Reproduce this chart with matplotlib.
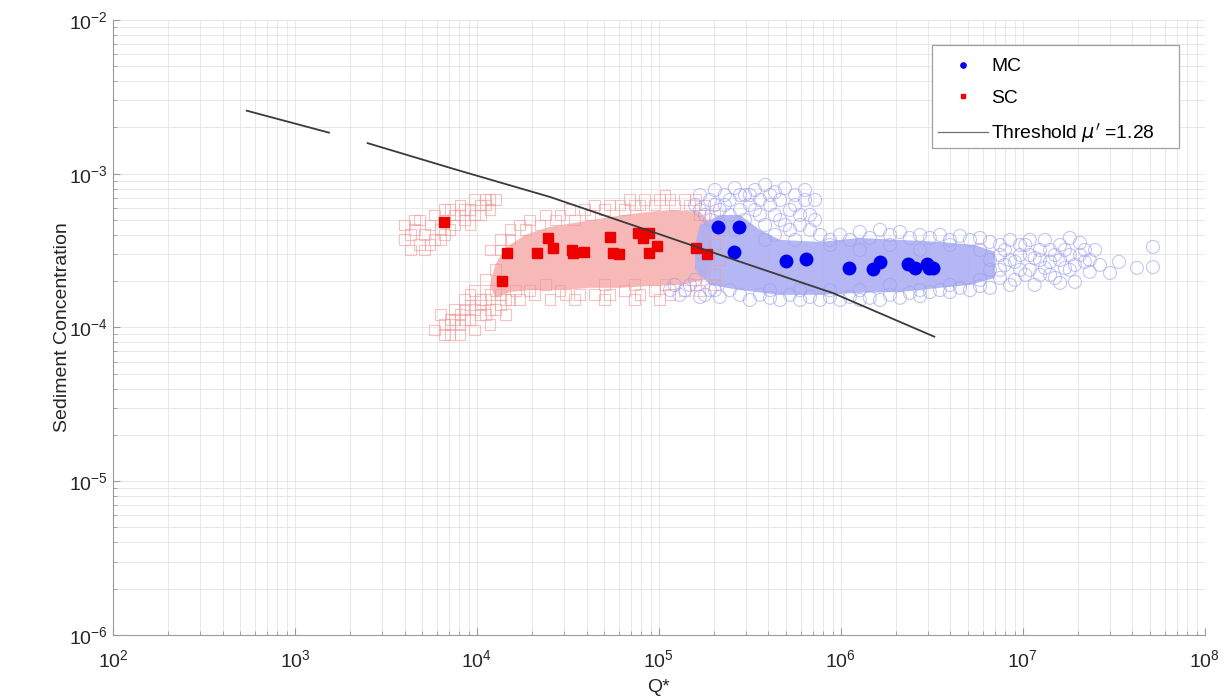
import numpy as np
import matplotlib
matplotlib.use("Agg")
from matplotlib import pyplot as plt
from matplotlib.lines import Line2D
from matplotlib.patches import Rectangle
from matplotlib.legend_handler import HandlerLine2D

plt.rcParams['font.family'] = ['Liberation Sans', 'DejaVu Sans']

# ---- data ----
# filled markers (SC = red squares, MC = blue dots)
sc_q = [6590, 14600, 13700, 21400, 24500, 26200, 33300, 33700, 38700, 53800,
        55900, 60300, 76700, 81700, 88100, 88100, 97500, 1.60e5, 1.84e5]
sc_c = [4.85e-4, 3.05e-4, 2.00e-4, 3.05e-4, 3.82e-4, 3.29e-4, 3.19e-4, 3.05e-4, 3.10e-4, 3.88e-4,
        3.05e-4, 3.01e-4, 4.12e-4, 3.82e-4, 4.12e-4, 3.05e-4, 3.39e-4, 3.29e-4, 3.01e-4]

mc_q = [2.11e5, 2.75e5, 2.58e5, 4.99e5, 6.42e5, 1.11e6, 1.50e6, 1.64e6,
        2.33e6, 2.55e6, 2.97e6, 3.20e6, 3.03e6]
mc_c = [4.51e-4, 4.51e-4, 3.10e-4, 2.71e-4, 2.79e-4, 2.44e-4, 2.40e-4, 2.67e-4,
        2.59e-4, 2.44e-4, 2.59e-4, 2.44e-4, 2.44e-4]

# threshold curve (gap in the original drawing)
thr_q = [543, 1537, np.nan, 2510, 7740, 25200, 2.78e5, 9.08e5, 3.26e6]
thr_c = [2.57e-3, 1.85e-3, np.nan, 1.58e-3, 1.06e-3, 7.06e-4, 2.68e-4, 1.67e-4, 8.71e-5]

x_ticks = [1e2, 1e3, 1e4, 1e5, 1e6, 1e7, 1e8]
y_ticks = [1e-6, 1e-5, 1e-4, 1e-3, 1e-2]

# SC open squares - small left cluster
sc_left_q = [4020, 4020, 4290, 4560, 4860, 4860, 5180, 5520, 5520, 5870, 6270, 6670, 7110,
             7110, 7570, 8070, 8590, 9160, 9750, 9750, 1.04e4, 1.11e4, 1.18e4, 1.18e4, 9160, 6270,
             4290, 4560, 5180, 5870, 6670, 7570, 8070, 8590, 1.04e4, 1.11e4, 1.26e4, 6670]
sc_left_c = [4.64e-4, 3.71e-4, 3.19e-4, 4.31e-4, 3.44e-4, 5.00e-4, 4.00e-4, 4.64e-4, 3.44e-4,
             5.39e-4, 4.31e-4, 5.00e-4, 5.81e-4, 4.31e-4, 5.39e-4, 6.26e-4, 5.00e-4, 5.81e-4,
             6.75e-4, 5.39e-4, 6.26e-4, 6.75e-4, 5.81e-4, 6.75e-4, 4.64e-4, 3.71e-4,
             4.00e-4, 5.00e-4, 3.19e-4, 3.71e-4, 5.81e-4, 4.64e-4, 5.39e-4, 5.81e-4, 5.39e-4,
             6.26e-4, 6.75e-4, 4.00e-4]

# SC open squares - main cloud
sc_open_q = [5870, 6270, 6670, 7110, 7570, 8070, 8590, 9160, 9750, 1.04e4, 1.11e4, 1.18e4,
             1.26e4, 1.34e4, 1.43e4, 1.52e4, 9750, 1.11e4, 1.26e4, 1.04e4, 8590, 7570,
             1.18e4, 1.34e4, 1.52e4, 1.72e4, 1.95e4, 2.37e4, 2.86e4, 3.24e4, 3.92e4, 4.45e4,
             5.38e4, 6.11e4, 7.38e4, 8.38e4, 1.01e5, 1.15e5, 1.39e5, 1.58e5, 1.79e5,
             1.72e4, 2.08e4, 2.52e4, 3.05e4, 3.68e4, 4.45e4, 5.38e4, 6.50e4, 7.87e4, 9.51e4,
             1.15e5, 1.39e5, 1.68e5, 2.03e5,
             2.03e5, 2.16e5, 2.03e5, 2.16e5, 2.03e5,
             6670, 7110, 8070, 8590, 9160, 9750, 1.04e4, 1.11e4, 1.18e4, 1.18e4, 1.26e4, 1.34e4,
             1.43e4, 9160, 8070, 7110,
             1.34e4, 1.52e4, 1.84e4, 2.22e4, 2.69e4, 3.45e4, 4.18e4, 5.05e4, 6.50e4, 7.87e4,
             9.51e4, 1.22e5, 1.48e5, 1.68e5, 1.08e5, 6.93e4,
             1.62e4, 1.95e4, 2.37e4, 3.45e4, 5.05e4, 7.38e4, 1.01e5, 5.05e4, 7.38e4, 1.08e5,
             1.58e5, 2.86e4]
sc_open_c = [9.63e-5, 1.21e-4, 8.94e-5, 1.04e-4, 1.30e-4, 8.94e-5, 1.12e-4, 1.40e-4, 9.63e-5,
             1.21e-4, 1.51e-4, 1.04e-4, 1.30e-4, 1.63e-4, 1.21e-4, 1.51e-4, 1.75e-4, 2.04e-4,
             2.37e-4, 1.51e-4, 1.51e-4, 1.12e-4,
             3.19e-4, 3.71e-4, 4.31e-4, 4.64e-4, 5.00e-4, 5.39e-4, 5.39e-4, 5.81e-4, 5.81e-4,
             6.26e-4, 6.26e-4, 6.26e-4, 6.26e-4, 6.75e-4, 6.75e-4, 6.75e-4, 6.75e-4, 6.75e-4,
             6.26e-4,
             1.51e-4, 1.63e-4, 1.51e-4, 1.63e-4, 1.63e-4, 1.63e-4, 1.63e-4, 1.75e-4, 1.63e-4,
             1.75e-4, 1.63e-4, 1.75e-4, 1.75e-4, 1.89e-4,
             5.39e-4, 4.31e-4, 3.44e-4, 2.75e-4, 2.20e-4,
             1.04e-4, 1.12e-4, 1.21e-4, 1.30e-4, 1.12e-4, 1.30e-4, 1.40e-4, 1.21e-4, 1.63e-4,
             1.30e-4, 1.75e-4, 1.40e-4, 1.51e-4, 1.63e-4, 1.04e-4, 8.94e-5,
             3.19e-4, 3.71e-4, 4.31e-4, 4.64e-4, 5.00e-4, 5.00e-4, 5.39e-4, 5.81e-4, 5.81e-4,
             6.26e-4, 6.26e-4, 6.26e-4, 6.26e-4, 5.39e-4, 7.27e-4, 6.75e-4,
             1.75e-4, 1.75e-4, 1.89e-4, 1.51e-4, 1.51e-4, 1.51e-4, 1.51e-4, 1.89e-4, 1.89e-4,
             1.89e-4, 1.89e-4, 1.75e-4]

# SC dense core outline
sc_core_q = [1.18e4, 1.26e4, 1.43e4, 1.84e4, 2.52e4, 3.68e4, 5.38e4, 7.87e4, 1.15e5, 1.68e5,
             1.95e5, 1.95e5, 1.79e5, 1.30e5, 8.93e4, 6.11e4, 4.18e4, 2.86e4, 1.95e4, 1.52e4, 1.26e4]
sc_core_c = [1.89e-4, 2.55e-4, 3.29e-4, 4.00e-4, 4.51e-4, 4.85e-4, 5.23e-4, 5.56e-4, 5.81e-4,
             5.64e-4, 4.64e-4, 2.67e-4, 2.04e-4, 1.89e-4, 1.86e-4, 1.81e-4, 1.81e-4, 1.75e-4,
             1.75e-4, 1.70e-4, 1.56e-4]

# MC open circles
mc_open_q = [1.58e5, 1.68e5, 1.91e5, 2.03e5, 2.30e5, 2.61e5, 2.97e5, 3.37e5, 3.83e5, 4.34e5,
             4.93e5, 5.60e5, 6.35e5, 7.21e5, 6.76e5, 5.96e5, 5.25e5, 4.63e5, 4.08e5, 3.59e5,
             3.16e5, 2.79e5, 2.45e5, 2.16e5, 1.79e5, 5.25e5, 4.34e5, 6.76e5, 7.68e5,
             8.71e5, 9.89e5, 1.12e6, 1.27e6, 1.44e6, 1.64e6, 1.86e6, 2.11e6, 2.39e6, 2.72e6,
             3.08e6, 3.50e6, 3.97e6, 4.51e6, 5.12e6, 5.81e6, 6.59e6,
             1.15e5, 1.30e5, 1.48e5, 1.68e5, 1.91e5, 2.16e5, 2.45e5, 2.79e5, 3.16e5, 3.59e5,
             4.08e5, 4.63e5, 5.25e5, 5.96e5, 6.76e5, 7.68e5, 8.71e5, 9.89e5, 1.12e6, 1.27e6,
             1.44e6, 1.64e6, 1.86e6, 2.11e6, 2.39e6, 2.72e6, 3.08e6, 3.50e6, 3.97e6, 4.51e6,
             5.12e6, 5.81e6, 6.59e6,
             7.48e6, 7.96e6, 8.49e6, 9.04e6, 9.64e6, 1.03e7, 1.09e7, 1.16e7, 1.24e7, 1.32e7,
             1.41e7, 1.50e7, 1.60e7, 1.70e7, 1.81e7, 1.93e7, 2.06e7, 2.19e7, 2.33e7, 2.49e7,
             2.65e7, 7.48e6, 8.49e6, 9.64e6, 1.24e7, 1.60e7, 1.09e7, 1.41e7, 1.81e7,
             7.96e6, 9.04e6, 1.03e7, 1.16e7, 1.32e7, 1.50e7, 1.70e7, 1.93e7, 2.19e7,
             3.01e7, 3.37e7, 4.23e7, 5.18e7, 5.18e7,
             1.68e5, 1.91e5, 2.03e5, 2.30e5, 2.45e5, 2.79e5, 2.97e5, 3.16e5, 3.37e5, 3.59e5,
             3.83e5, 4.08e5, 4.34e5, 4.63e5, 4.93e5, 5.60e5, 5.96e5, 6.35e5, 7.21e5, 3.83e5,
             5.60e5, 2.61e5, 2.16e5,
             1.22e5, 1.39e5, 1.58e5, 1.79e5, 2.03e5,
             8.71e5, 1.27e6, 1.86e6, 2.72e6, 3.97e6, 5.81e6,
             4.08e5, 5.96e5, 8.71e5, 1.27e6, 1.86e6, 2.72e6, 3.97e6, 5.81e6,
             6.59e6, 6.59e6, 7.48e6, 7.48e6,
             8.49e6, 9.64e6, 1.09e7, 1.24e7, 1.41e7, 1.60e7, 1.81e7, 2.06e7, 2.33e7]
mc_open_c = [6.26e-4, 7.27e-4, 6.75e-4, 7.84e-4, 7.27e-4, 8.07e-4, 7.27e-4, 7.84e-4, 8.46e-4,
             7.60e-4, 8.07e-4, 7.27e-4, 7.84e-4, 6.75e-4, 5.39e-4, 4.64e-4, 5.81e-4, 5.00e-4,
             6.26e-4, 5.39e-4, 6.26e-4, 5.81e-4, 5.39e-4, 5.81e-4, 5.39e-4, 4.31e-4, 4.00e-4,
             4.31e-4, 4.00e-4,
             3.71e-4, 4.00e-4, 3.71e-4, 4.18e-4, 3.82e-4, 4.31e-4, 4.00e-4, 4.18e-4, 3.82e-4,
             4.00e-4, 3.82e-4, 4.00e-4, 3.71e-4, 3.94e-4, 3.71e-4, 3.82e-4, 3.60e-4,
             1.75e-4, 1.63e-4, 1.89e-4, 1.58e-4, 1.75e-4, 1.58e-4, 1.75e-4, 1.63e-4, 1.51e-4,
             1.63e-4, 1.56e-4, 1.51e-4, 1.63e-4, 1.51e-4, 1.58e-4, 1.51e-4, 1.58e-4, 1.51e-4,
             1.58e-4, 1.51e-4, 1.56e-4, 1.51e-4, 1.63e-4, 1.56e-4, 1.68e-4, 1.60e-4, 1.70e-4,
             1.75e-4, 1.70e-4, 1.81e-4, 1.75e-4, 1.86e-4, 1.81e-4,
             3.44e-4, 2.55e-4, 3.71e-4, 2.04e-4, 2.96e-4, 3.44e-4, 2.37e-4, 1.89e-4, 3.19e-4,
             3.71e-4, 2.67e-4, 2.10e-4, 3.44e-4, 2.44e-4, 2.96e-4, 1.98e-4, 3.55e-4, 2.67e-4,
             2.30e-4, 3.19e-4, 2.55e-4, 2.10e-4, 1.89e-4, 2.37e-4, 2.20e-4, 1.95e-4, 3.71e-4,
             3.19e-4, 3.82e-4,
             3.19e-4, 2.67e-4, 2.20e-4, 2.83e-4, 2.44e-4, 2.96e-4, 3.19e-4, 2.55e-4, 3.19e-4,
             2.26e-4, 2.67e-4, 2.44e-4, 2.47e-4, 3.34e-4,
             5.81e-4, 5.00e-4, 6.26e-4, 6.26e-4, 6.75e-4, 7.27e-4, 5.00e-4, 7.27e-4, 5.81e-4,
             6.75e-4, 4.64e-4, 7.27e-4, 5.39e-4, 6.75e-4, 4.64e-4, 6.26e-4, 5.39e-4, 6.75e-4,
             5.00e-4, 3.71e-4, 3.71e-4, 4.31e-4, 4.64e-4,
             1.89e-4, 1.75e-4, 2.04e-4, 1.63e-4, 1.75e-4,
             3.44e-4, 3.19e-4, 3.44e-4, 3.19e-4, 3.44e-4, 3.19e-4,
             1.75e-4, 1.75e-4, 1.75e-4, 1.75e-4, 1.89e-4, 1.75e-4, 1.89e-4, 2.04e-4,
             2.75e-4, 2.37e-4, 2.96e-4, 2.37e-4,
             2.75e-4, 3.44e-4, 2.96e-4, 2.75e-4, 2.20e-4, 2.75e-4, 2.37e-4, 2.96e-4, 2.75e-4]

# MC dense core outline
mc_core_q = [1.58e5, 1.68e5, 2.16e5, 2.79e5, 3.59e5, 4.63e5, 7.68e5, 1.27e6, 2.11e6, 3.50e6,
             5.45e6, 7.01e6, 7.01e6, 5.12e6, 3.50e6, 2.11e6, 1.27e6, 7.68e5, 4.63e5, 2.79e5,
             1.91e5, 1.58e5]
mc_core_c = [3.44e-4, 4.64e-4, 5.39e-4, 5.39e-4, 4.31e-4, 3.71e-4, 3.60e-4, 3.82e-4, 3.71e-4,
             3.60e-4, 3.44e-4, 3.10e-4, 2.10e-4, 1.89e-4, 1.81e-4, 1.70e-4, 1.68e-4, 1.63e-4,
             1.63e-4, 1.75e-4, 1.89e-4, 2.37e-4]

sc_light = '#f29a9a'
mc_light = '#9da2ee'


class RightMarkerHandler(HandlerLine2D):
    # legend marker sits near the text, like the original
    def get_xdata(self, legend, xdescent, ydescent, width, height, fontsize):
        xdata = np.array([-xdescent, -xdescent + width])
        return xdata, np.array([-xdescent + 0.78 * width])


fig = plt.figure(figsize=(12.29, 7), dpi=100)
ax = fig.add_axes([0.0919, 0.0929, 0.8885, 0.8786])
ax.set_xscale('log')
ax.set_yscale('log')

# clouds
ax.fill(sc_core_q, sc_core_c, color='#f7b8b8', lw=0, zorder=2)
ax.scatter(sc_left_q, sc_left_c, marker='s', s=62, facecolors='none',
           edgecolors=sc_light, linewidths=0.8, alpha=0.6, zorder=3)
ax.scatter(sc_open_q, sc_open_c, marker='s', s=62, facecolors='none',
           edgecolors=sc_light, linewidths=0.8, alpha=0.6, zorder=3)
ax.fill(mc_core_q, mc_core_c, color='#acb0f2', lw=0, alpha=0.9, zorder=2)
ax.scatter(mc_open_q, mc_open_c, marker='o', s=88, facecolors='none',
           edgecolors=mc_light, linewidths=0.8, alpha=0.6, zorder=3)

# filled points
ax.plot(sc_q, sc_c, 's', color='#ee0000', ms=7.5, mec='#ee0000', zorder=5)
ax.plot(mc_q, mc_c, 'o', color='#0000f0', ms=9, mec='#0000f0', zorder=5)

# threshold line
ax.plot(thr_q, thr_c, '-', color='#3a3a3a', lw=1.3, zorder=6)

ax.set_xlim(1e2, 1e8)
ax.set_ylim(1e-6, 1e-2)
ax.set_xticks(x_ticks)
ax.set_yticks(y_ticks)

ax.grid(True, which='both', color='#e4e4e4', lw=0.6)
ax.set_axisbelow(True)
for side in ['top', 'right']:
    ax.spines[side].set_visible(False)
for side in ['left', 'bottom']:
    ax.spines[side].set_color('#9a9a9a')
ax.tick_params(which='both', direction='in', colors='#9a9a9a', labelcolor='#262626',
               labelsize=14)
ax.tick_params(which='major', length=5)
ax.tick_params(which='minor', length=3)
ax.tick_params(axis='x', which='major', pad=10)

ax.set_xlabel('Q*', fontsize=14, color='#262626', labelpad=6)
ax.set_ylabel('Sediment Concentration', fontsize=14, color='#262626', labelpad=-1)

# legend: box drawn separately (extra room on the right like the original)
box = Rectangle((0.750, 0.792), 0.226, 0.167, transform=ax.transAxes, facecolor='white',
                edgecolor='#a0a0a0', lw=0.9, zorder=19)
ax.add_patch(box)
handles = [
    Line2D([], [], ls='none', marker='o', ms=3.8, color='#0000f0'),
    Line2D([], [], ls='none', marker='s', ms=3.2, color='#ee0000'),
    Line2D([], [], ls='-', lw=0.9, color='#707070'),
]
leg = ax.legend(handles, ['MC', 'SC', r"Threshold $\mu'$ =1.28"],
                loc='upper left', bbox_to_anchor=(0.7555, 0.9385), fontsize=13.9,
                frameon=False, handlelength=2.6, handletextpad=0.15, labelspacing=0.74,
                borderpad=0, borderaxespad=0,
                handler_map={Line2D: RightMarkerHandler()})
leg.set_zorder(20)

fig.savefig('out.png', dpi=100)
